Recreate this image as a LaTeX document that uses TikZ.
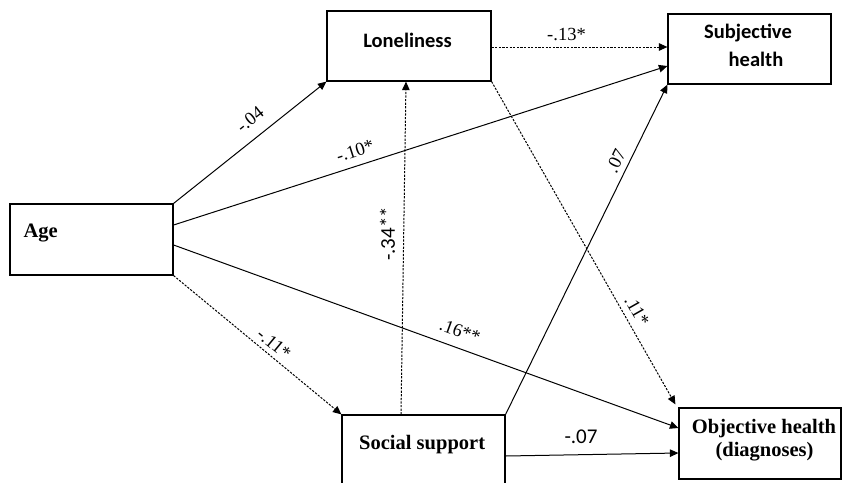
\documentclass[tikz,border=0pt]{standalone}
\usepackage{fontspec}
\setmainfont{Liberation Serif}
\newfontfamily\calfont{Carlito}
\usetikzlibrary{arrows.meta}
\tikzset{
  box/.style={draw, line width=1.2pt, inner sep=0pt, minimum width=#1},
  boxtext/.style={inner sep=0pt, font=\fontsize{20.5}{24}\selectfont\bfseries},
  sanstext/.style={inner sep=0pt, font=\calfont\fontsize{20.5}{24}\selectfont\bfseries},
  lab/.style={inner sep=0pt, font=\fontsize{18.5}{20}\selectfont},
  sanslab/.style={inner sep=0pt, font=\calfont\fontsize{21}{22}\selectfont},
  conn/.style={line width=1pt, -{Triangle[length=8.5pt,width=7.5pt]}},
  dashconn/.style={conn, dash pattern=on 2.2pt off 1.4pt},
}
\begin{document}
\begin{tikzpicture}[x=1pt,y=-1pt]
\useasboundingbox (0,0) rectangle (842,482);
\clip (0,0) rectangle (842,482);
% boxes
\node[box=163pt, minimum height=71pt] (age) at (91.5,239.5) {};
\node[box=164pt, minimum height=70pt] (lon) at (409,46) {};
\node[box=163pt, minimum height=70pt] (subj) at (749.5,49) {};
\node[box=163pt, minimum height=71pt] (soc) at (423.5,450.5) {};
\node[box=162pt, minimum height=71pt] (obj) at (760,443.5) {};
% texts
\node[boxtext, anchor=base west] (agetxt) at (23.3,237) {Age};
\node[sanstext, anchor=base] (lontxt) at (407.5,47) {Loneliness};
\node[sanstext, anchor=base] (subjtxt1) at (748,38) {Subjective};
\node[sanstext, anchor=base] (subjtxt2) at (756,66) {health};
\node[boxtext, anchor=base west] (soctxt) at (359,449) {Social support};
\node[boxtext, anchor=base] (objtxt1) at (764,433) {Objective health};
\node[boxtext, anchor=base] (objtxt2) at (764.5,456.5) {(diagnoses)};
% connectors
\draw[conn] (age.north east) -- (lon.south west);
\draw[conn] ([yshift=14.5pt]age.east) -- ([yshift=-17pt]subj.west);
\draw[conn] ([yshift=-5.5pt]age.east) -- ([yshift=15.5pt]obj.west);
\draw[dashconn] (age.south east) -- (soc.north west);
\draw[dashconn] ([xshift=-22.5pt]soc.north) -- ([xshift=-3pt]lon.south);
\draw[dashconn] ([yshift=-1pt]lon.east) -- ([yshift=2pt]subj.west);
\draw[dashconn] (lon.south east) -- ([shift={(-3pt,3pt)}]obj.north west);
\draw[conn] (soc.north east) -- (subj.south west);
\draw[conn] ([yshift=-5.5pt]soc.east) -- ([yshift=-9.5pt]obj.west);
% labels
\node[lab, rotate=38.6] (l1) at (250,119.5) {-.04};
\node[lab, rotate=17.8] (l2) at (355,151) {-.10*};
\node[lab, rotate=-19.9] (l3) at (460,331) {.16**};
\node[lab, rotate=-39.6] (l4) at (274,344) {-.11*};
\node[sanslab, rotate=90] (l5) at (387.5,234) {-.34**};
\node[lab] (l6) at (566.5,34.5) {-.13*};
\node[lab, rotate=-60.4] (l7) at (637,311) {.11*};
\node[lab, rotate=63.8] (l8) at (616,161) {.07};
\node[sanslab] (l9) at (581,436.5) {-.07};
\end{tikzpicture}
\end{document}
